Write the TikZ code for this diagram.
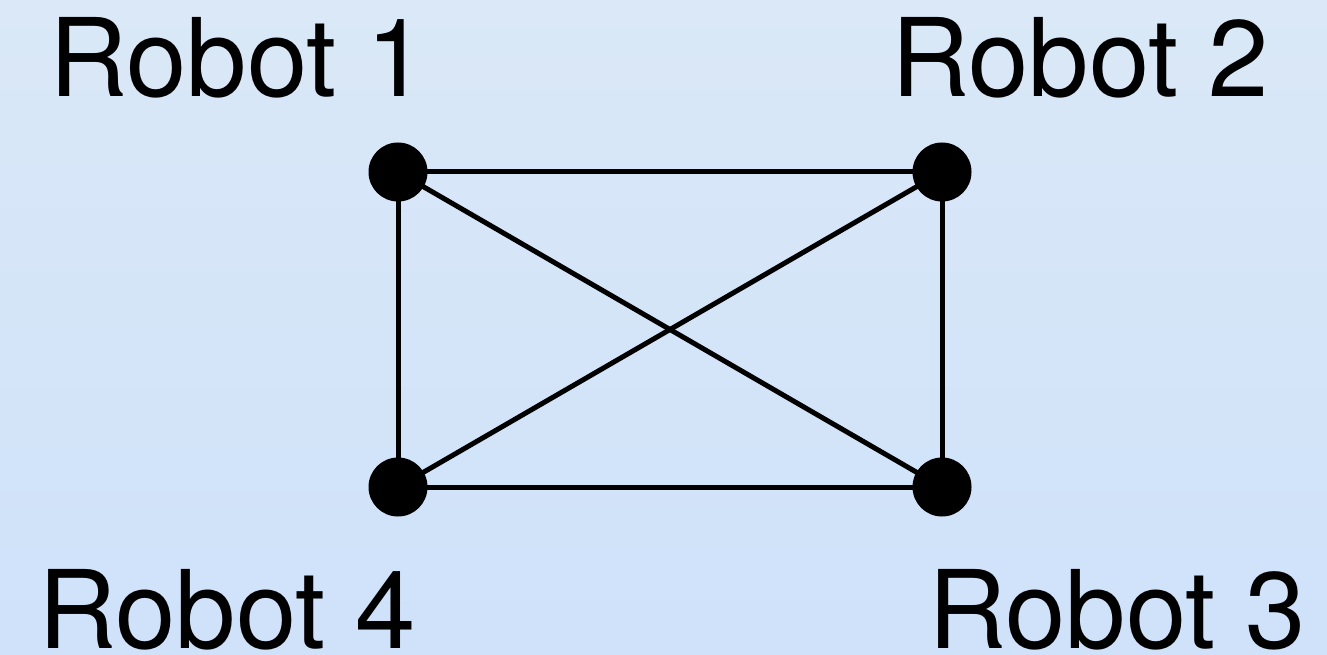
\documentclass[tikz,border=0pt]{standalone}
\usepackage{fontspec}
\setmainfont{TeX Gyre Heros}
\definecolor{bgtop}{RGB}{218,232,247}
\definecolor{bgbot}{RGB}{207,226,250}
\begin{document}
\begin{tikzpicture}[x=1pt,y=-1pt,
  robot/.style={circle,fill=black,minimum size=59pt,inner sep=0pt},
  label/.style={anchor=base,inner sep=0pt,font=\fontsize{108.5}{112}\selectfont},
  edge/.style={line width=5pt}]
\shade[top color=bgtop,bottom color=bgbot] (0,0) rectangle (1327,655);
\useasboundingbox (0,0) rectangle (1327,655);
\node[robot] (r1) at (398,172) {};
\node[robot] (r2) at (942,172) {};
\node[robot] (r3) at (942,487) {};
\node[robot] (r4) at (398,487) {};
\draw[edge] (r1.center) -- (r2.center);
\draw[edge] (r4.center) -- (r3.center);
\draw[edge] (r1.center) -- (r4.center);
\draw[edge] (r2.center) -- (r3.center);
\draw[edge] (r1.center) -- (r3.center);
\draw[edge] (r2.center) -- (r4.center);
\node[label] (l1) at (238,97) {Robot 1};
\node[label] (l2) at (1080,97) {Robot 2};
\node[label] (l4) at (227,648) {Robot 4};
\node[label] (l3) at (1117,648) {Robot 3};
\end{tikzpicture}
\end{document}
